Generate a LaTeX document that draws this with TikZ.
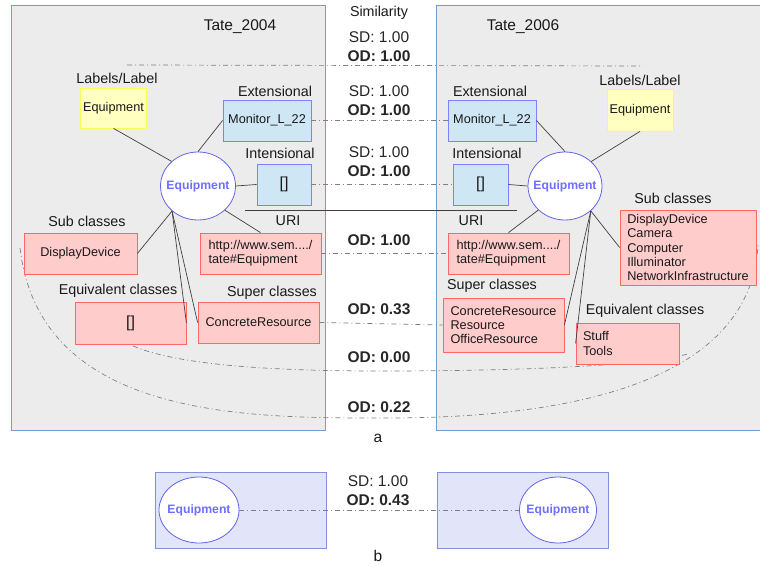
\documentclass[tikz,border=0pt]{standalone}
\usepackage{fontspec}
\setmainfont{Liberation Sans}
\usepackage{xcolor}
\usetikzlibrary{shapes.geometric}
\definecolor{panelgray}{RGB}{236,236,236}
\definecolor{panelline}{RGB}{114,159,207}
\definecolor{boxred}{RGB}{255,204,204}
\definecolor{linered}{RGB}{255,102,102}
\definecolor{boxblue}{RGB}{207,231,245}
\definecolor{lineblue}{RGB}{128,128,255}
\definecolor{boxyellow}{RGB}{255,255,192}
\definecolor{lineyellow}{RGB}{250,250,90}
\definecolor{eqline}{RGB}{100,100,230}
\definecolor{eqtext}{RGB}{110,110,255}
\definecolor{lavfill}{RGB}{226,228,250}
\definecolor{lavline}{RGB}{128,146,220}

\begin{document}
\begin{tikzpicture}[x=1pt,y=-1pt,
          box/.style={draw, line width=0.8pt, inner sep=0pt, text=black!90, font=\fontsize{12.7}{14.2}\selectfont},
          redbox/.style={box, fill=boxred, draw=linered},
          bluebox/.style={box, fill=boxblue, draw=lineblue},
          yellowbox/.style={box, fill=boxyellow, draw=lineyellow},
          cls/.style={ellipse, draw=eqline, fill=white, line width=0.8pt, inner sep=0pt,
            label={[text=eqtext, font=\fontsize{12.2}{14}\selectfont\bfseries]center:Equipment}},
          title/.style={text=black!90, font=\fontsize{14.3}{17}\selectfont},
          sim/.style={align=center, text=black!85, font=\fontsize{15.5}{19}\selectfont},
          link/.style={draw=black!75, line width=0.7pt},
          simlink/.style={draw=black!50, line width=0.7pt, dash pattern=on 5pt off 3pt on 1pt off 3pt},
          brk/.style={font=\fontsize{16}{18}\selectfont}]
  \useasboundingbox (0,0) rectangle (760,567);
  \filldraw[fill=panelgray, draw=panelline, line width=0.8pt] (11,5) rectangle (325,430);
  \filldraw[fill=panelgray, draw=panelline, line width=0.8pt] (436,5) rectangle (764,430);
  \filldraw[fill=lavfill, draw=lavline, line width=0.8pt] (155,472) rectangle (326,548);
  \filldraw[fill=lavfill, draw=lavline, line width=0.8pt] (437,472) rectangle (608,548);

  \draw[simlink] (127,65) -- (643,66);
  \draw[simlink] (20,248) .. controls (40,420) and (250,418) .. (387,418)
                          .. controls (550,418) and (750,390) .. (758,245);
  \draw[simlink] (133,346) .. controls (180,366) and (280,371) .. (380,371)
                           .. controls (520,371) and (640,366) .. (688,354);
  \draw[black!75, line width=0.7pt] (245,210) -- (517,210);

  \node[title] (simT) at (379,13) {Similarity};
  \node[title, font=\fontsize{15.5}{18}\selectfont] (t04) at (240,27) {Tate\_2004};
  \node[title, font=\fontsize{15.5}{18}\selectfont] (t06) at (523,27) {Tate\_2006};

  \node[sim] (s1) at (379,46.5) {SD: 1.00\\\textbf{OD: 1.00}};
  \node[sim] (s2) at (379,100.5) {SD: 1.00\\\textbf{OD: 1.00}};
  \node[sim] (s3) at (379,162) {SD: 1.00\\\textbf{OD: 1.00}};
  \node[sim] (s4) at (379,240) {\textbf{OD: 1.00}};
  \node[sim] (s5) at (379,309) {\textbf{OD: 0.33}};
  \node[sim] (s6) at (379,357) {\textbf{OD: 0.00}};
  \node[sim] (s7) at (379,407) {\textbf{OD: 0.22}};

  \node[cls, minimum width=75pt, minimum height=68pt] (eqL) at (198,186) {};
  \node[yellowbox, minimum width=66pt, minimum height=40pt] (labL) at (113.5,108) {Equipment};
  \node[bluebox, minimum width=88pt, minimum height=41pt] (extL) at (267,120.5) {Monitor\_L\_22};
  \node[bluebox, brk, minimum width=54pt, minimum height=41pt] (intL) at (284,184.5) {[]};
  \node[redbox, minimum width=113pt, minimum height=41pt] (subL) at (80.5,253.5) {DisplayDevice};
  \node[redbox, align=left, minimum width=121pt, minimum height=41pt] (uriL) at (260.5,253.5) {http://www.sem..../\\tate\#Equipment};
  \node[redbox, brk, minimum width=111pt, minimum height=42pt] (equL) at (130.5,323) {[]};
  \node[redbox, minimum width=121pt, minimum height=41pt] (supL) at (258.5,322.5) {ConcreteResource};

  \node[title] (labLt) at (117,78) {Labels/Label};
  \node[title] (extLt) at (275,91) {Extensional};
  \node[title] (intLt) at (280,153) {Intensional};
  \node[title] (subLt) at (87,221) {Sub classes};
  \node[title] (uriLt) at (288,221) {URI};
  \node[title] (equLt) at (118,291) {Equivalent classes};
  \node[title] (supLt) at (272,293) {Super classes};

  \node[cls, minimum width=74pt, minimum height=68pt] (eqR) at (565,186) {};
  \node[yellowbox, minimum width=66pt, minimum height=42pt] (labR) at (640,110) {Equipment};
  \node[bluebox, minimum width=88pt, minimum height=41pt] (extR) at (492,120.5) {Monitor\_L\_22};
  \node[bluebox, brk, minimum width=55pt, minimum height=41pt] (intR) at (480.5,184.5) {[]};
  \node[redbox, align=left, minimum width=136pt, minimum height=75pt] (subR) at (688,247.5) {DisplayDevice\\Camera\\Computer\\Illuminator\\NetworkInfrastructure};
  \node[redbox, align=left, minimum width=121pt, minimum height=41pt] (uriR) at (508.5,253.5) {http://www.sem..../\\tate\#Equipment};
  \node[redbox, align=left, minimum width=121pt, minimum height=54pt] (supR) at (503.5,325) {ConcreteResource\\Resource\\OfficeResource};
  \node[redbox, align=left, text width=89pt, inner sep=7pt, minimum height=41pt] (equR) at (627.5,343.5) {Stuff\\Tools};

  \node[title] (labRt) at (640,80) {Labels/Label};
  \node[title] (extRt) at (490,91) {Extensional};
  \node[title] (intRt) at (487,153) {Intensional};
  \node[title] (subRt) at (673,198) {Sub classes};
  \node[title] (uriRt) at (471,221) {URI};
  \node[title] (supRt) at (492,286) {Super classes};
  \node[title] (equRt) at (645,311) {Equivalent classes};

  \draw[link] (labL.south) -- (eqL.137);
  \draw[link] (extL.west) -- (eqL.north);
  \draw[link] (eqL.east) -- (intL.west);
  \draw[link] (eqL.224) -- (subL.east);
  \draw[link] (eqL.-42) -- (uriL.north);
  \draw[link] (eqL.224) -- (equL.east);
  \draw[link] (eqL.224) -- (supL.west);

  \draw[link] (labR.south) -- (eqR.43);
  \draw[link] (extR.east) -- (eqR.north);
  \draw[link] (intR.east) -- (eqR.west);
  \draw[link] (eqR.222) -- (uriR.north);
  \draw[link] (eqR.316) -- (subR.west);
  \draw[link] (eqR.316) -- (supR.east);
  \draw[link] (eqR.316) -- (equR.west);

  \draw[simlink] (extL.east) -- (extR.west);
  \draw[simlink] (intL.east) -- (intR.west);
  \draw[simlink] (uriL.east) -- (uriR.west);
  \draw[simlink] (supL.east) -- (supR.west);

  \node[title, font=\fontsize{15.5}{18}\selectfont] (capA) at (378,438) {a};

  \node[cls, minimum width=80pt, minimum height=66pt] (eqbL) at (199,510) {};
  \node[cls, minimum width=77pt, minimum height=66pt] (eqbR) at (558,510) {};
  \draw[simlink] (eqbL.east) -- (eqbR.west);
  \node[sim] (sb) at (378,490.5) {SD: 1.00\\\textbf{OD: 0.43}};
  \node[title, font=\fontsize{15.5}{18}\selectfont] (capB) at (378,556) {b};
\end{tikzpicture}
\end{document}
